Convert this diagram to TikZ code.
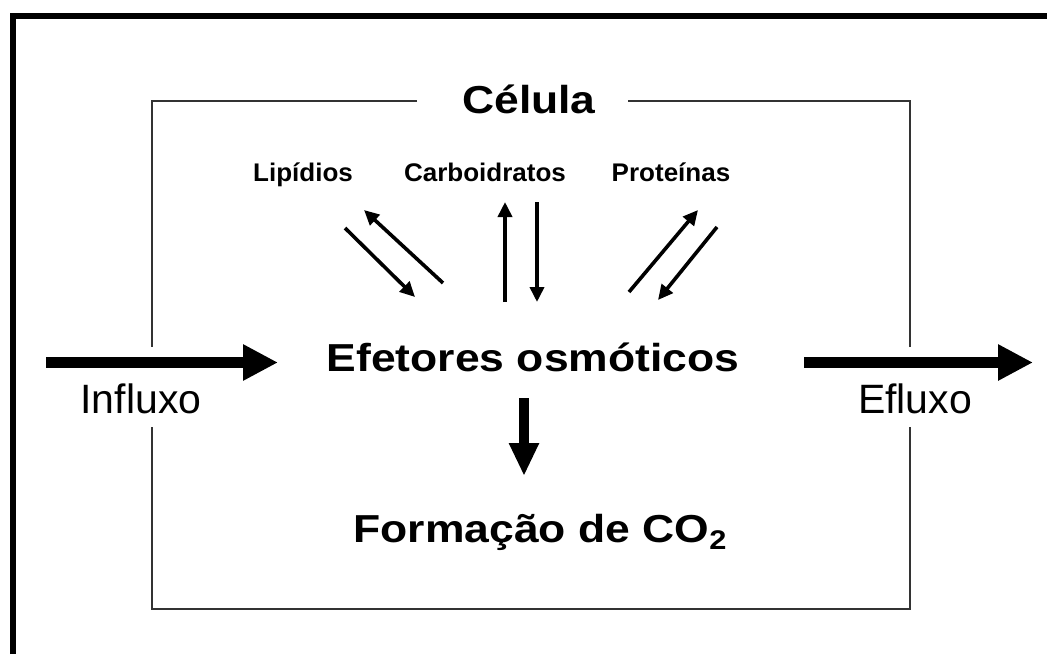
\documentclass[tikz,border=0pt]{standalone}
\usepackage{fontspec}
\setmainfont{Liberation Sans}
\newfontfamily\wideb[FakeStretch=1.14]{Liberation Sans Bold}
\newfontfamily\wideS[FakeStretch=1.02]{Liberation Sans Bold}
\usetikzlibrary{arrows.meta}
\tikzset{
  bigtxt/.style={anchor=base, inner sep=0pt, font=\wideb\fontsize{39}{41}\selectfont},
  smalltxt/.style={anchor=base, inner sep=0pt, font=\wideS\fontsize{25.5}{27}\selectfont},
  flowtxt/.style={anchor=base, inner sep=0pt, font=\fontsize{41}{44}\selectfont},
  thickarrow/.style={line width=11pt, -{Triangle[length=35pt,width=34pt]}},
  downarrow/.style={line width=10pt, -{Triangle[length=33pt,width=28pt]}},
  thinarrow/.style={line width=3.6pt, -{Triangle[length=15pt,width=14pt]}},
  cellline/.style={draw=black!80, line width=1.3pt},
  frameline/.style={line width=6pt}
}
\begin{document}
\begin{tikzpicture}[x=1pt,y=-1pt]
\useasboundingbox (0,0) rectangle (1047,654);
% outer frame (cropped)
\draw[frameline] (12.8,654) -- (12.8,16) -- (1047,16);
% cell box
\draw[cellline] (417,101) -- (152,101) -- (152,347);
\draw[cellline] (152,427) -- (152,609) -- (910,609) -- (910,427);
\draw[cellline] (910,347) -- (910,101) -- (628,101);
% texts
\node[bigtxt] (celula) at (529,113) {Célula};
\node[smalltxt] (lip) at (303,181) {Lipídios};
\node[smalltxt] (carb) at (485,181) {Carboidratos};
\node[smalltxt] (prot) at (671,181) {Proteínas};
\node[bigtxt] (efet) at (533,371) {Efetores osmóticos};
\node[bigtxt] (form) at (540,542) {Formação de CO\raisebox{-7pt}{\fontsize{27}{27}\selectfont 2}};
\node[flowtxt] (influxo) at (141,413) {Influxo};
\node[flowtxt] (efluxo) at (915,413) {Efluxo};
% coordinates
\coordinate (inS) at (46,362.5);
\coordinate (inE) at (278,362.5);
\coordinate (outS) at (804,362.5);
\coordinate (outE) at (1033,362.5);
\coordinate (dS) at (524,398);
\coordinate (dE) at (524,476);
\coordinate (l1s) at (345,228);
\coordinate (l1e) at (415,297);
\coordinate (l2s) at (443,283);
\coordinate (l2e) at (364,210);
\coordinate (c1s) at (505,302);
\coordinate (c1e) at (505,202);
\coordinate (c2s) at (537,202);
\coordinate (c2e) at (537,302);
\coordinate (p1s) at (629,292);
\coordinate (p1e) at (698,210);
\coordinate (p2s) at (717,227);
\coordinate (p2e) at (658,300);
% arrows
\draw[thickarrow] (inS) -- (inE);
\draw[thickarrow] (outS) -- (outE);
\draw[downarrow] (dS) -- (dE);
\draw[thinarrow] (l1s) -- (l1e);
\draw[thinarrow] (l2s) -- (l2e);
\draw[thinarrow] (c1s) -- (c1e);
\draw[thinarrow] (c2s) -- (c2e);
\draw[thinarrow] (p1s) -- (p1e);
\draw[thinarrow] (p2s) -- (p2e);
\end{tikzpicture}
\end{document}
